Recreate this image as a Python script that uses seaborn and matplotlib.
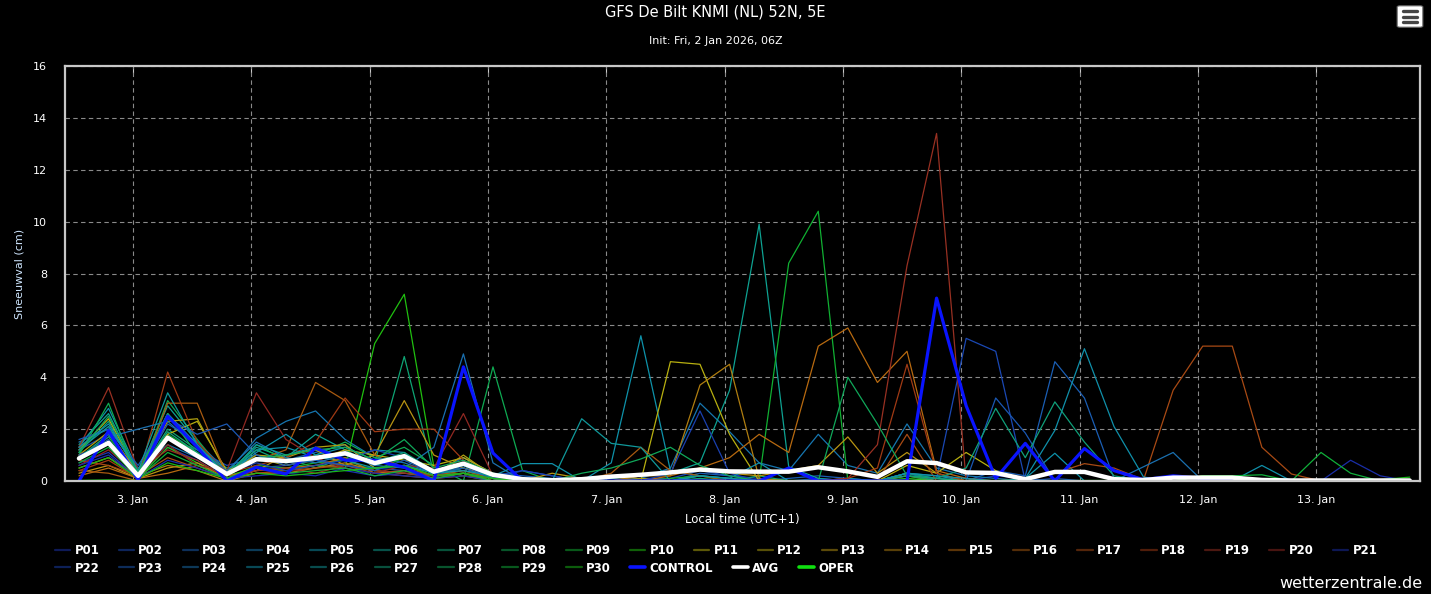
import pandas as pd
import matplotlib
matplotlib.use('Agg')
import matplotlib.pyplot as plt
import matplotlib.dates as mdates
from matplotlib.lines import Line2D
from matplotlib.patches import FancyBboxPatch
import seaborn as sns

# time steps (local time, 6-hourly from 2 Jan 13h)
times = pd.date_range('2026-01-02 13:00', periods=46, freq='6h')

p01 = [0.7,1.1,0.1,1.3,0.8,0.1,0.5,0.6,0.9,0.4,0.2,0.3,0.1,0.6,0.1, 0,0,0,0,0, 0,0.2,0.1,0,0, 0,0,0,0,0.1, 0,0.2,0.1,0,0, 0,0,0,0,0, 0,0,0,0,0,0]
p02 = [1.2,1.8,0.3,1.6,1.2,0.6,0.9,0.7,0.8,0.6,0.5,0.4,0.2,0.5,0.2, 0.4,0.2,0,0,0.1, 0.1,0.4,0.2,0.1,0, 0.1,0,0,0.3,0.1, 5.5,5.0,0,0.1,0, 0,0,0,0,0, 0,0,0,0,0,0]
p03 = [0.9,1.6,0.2,2.2,1.5,0.4,1.0,0.8,1.1,1.4,0.5,0.6,0.3,0.9,0.3, 0.2,0.1,0,0,0, 0,0.3,0.2,0,0.1, 0.2,0.1,0,0.3,0, 0,0.4,0.2,4.6,3.2, 0.1,0,0,0,0, 0,0,0,0,0,0]
p04 = [1.5,2.0,0.5,1.4,0.9,0.3,1.65,2.3,2.7,1.6,0.9,0.7,0.3,0.5,0.1, 0,0,0,0,0.1, 0.5,3.0,1.9,0.7,0.4, 1.8,0.6,0.3,2.2,0.5, 0.2,0.1,0,0,0, 0,0,0,0,0, 0,0,0,0,0,0]
p05 = [1.3,2.8,0.4,2.6,1.4,0.2,1.2,1.3,0.9,0.8,1.2,1.1,0.2,0.3,0.1, 0,0,0,0.7,5.6, 0.4,0.2,0.1,0,0, 0,0.1,0,0.3,0.2, 0,0,0.1,1.07,0, 0,0,0,0,0, 0,0,0,0,0,0]
p06 = [1.4,2.6,0.3,2.9,1.5,0.3,1.3,0.9,1.8,1.2,0.6,0.9,0.4,0.6,0.1, 0,0,0,0.1,0.2, 0.3,0.7,3.5,9.9,0.55, 0.1,0,0,0.2,0.1, 0,0,0,0,0, 0,0,0,0,0, 0,0,0,0,0,0]
p07 = [1.1,2.3,0.2,2.0,1.2,0.5,0.8,0.9,0.5,0.9,0.7,4.8,0.3,0.4,0.1, 0,0,0,0,0, 0,0.1,0,0.2,0, 0,0,0,0.3,0.1, 0,0,0,0,0, 0,0,0,0,0, 0,0,0,0,0,0]
p08 = [1.0,3.0,0.1,3.1,1.6,0.2,1.4,0.8,1.0,1.5,0.9,1.3,0.6,0.0,4.4, 0.4,0,0,0,0, 0,0,0,0,0, 0,0,0,0,0, 0,0,0,0,0, 0,0,0,0,0, 0,0,0,0,0,0]
p09 = [0.8,1.7,0.2,1.8,1.1,0.1,0.6,0.5,0.7,0.8,0.4,0.9,0.3,0.5,0.2, 0,0,0,0,0, 0.1,0.2,0,0,8.4, 10.4,0,0,0,0, 0,0,0,0,0, 0,0,0,0,0, 0,0,0,0,0,0]
p10 = [0.9,1.4,0.1,1.3,0.7,0.2,0.5,0.4,0.6,0.5,5.3,7.2,0.55,0.2,0.1, 0,0,0,0,0, 0,0,0,0,0, 0,0,0,0.1,0, 0,0,0,0,0, 0,0,0,0,0, 0,0,0,0,0,0]
p11 = [1.2,2.4,0.3,1.8,2.3,0.4,0.9,0.6,0.8,1.2,1.0,0.8,0.6,0.9,0.3, 0.1,0,0.1,0,0, 4.6,4.5,1.8,0,0, 0,0,0,0.6,0.3, 1.1,0.4,0,0,0, 0,0,0,0,0, 0,0,0,0,0,0]
p12 = [1.0,1.9,0.3,2.3,2.4,0.3,1.0,0.9,1.3,1.4,0.5,0.6,0.2,1.0,0.2, 0,0,0,0,0.1, 0,0,0,0,0, 0,0,0,0,0, 0,0,0,0,0, 0,0,0,0.2,0.2, 0,0,0,0,0,0]
p13 = [0.3,0.6,0.1,0.5,0.7,0.1,0.4,1.0,1.2,0.6,1.0,3.1,1.0,0.5,0.2, 0,0.3,0.1,0,0.2, 0.3,0.5,0.3,0.2,0.4, 0.6,1.7,0.3,1.1,0.3, 0,0,0,0,0, 0,0,0,0,0, 0,0,0,0,0,0]
p14 = [0.5,0.9,0.2,0.6,0.4,0.0,0.3,0.3,0.5,0.7,0.4,0.3,0.2,0.3,0, 0,0,0,0,0.2, 0.2,3.7,4.5,0.1,0, 0,0,0,0.2,0, 0,0,0,0,0, 0,0,0,0,0, 0,0,0,0,0,0]
p15 = [0.2,0.5,0.1,0.3,0.6,0.2,0.4,0.5,0.6,0.9,0.3,0.4,0.1,0.2,0, 0,0,0,0,0, 0.2,0.5,0.9,1.8,1.1, 5.2,5.9,3.8,5.0,0.4, 0.1,0,0,0,0, 0,0,0,0,0, 0,0,0,0,0,0]
p16 = [0.4,0.3,0.0,3.0,3.0,0.2,0.8,1.2,3.8,3.1,1.0,0.5,0.2,0.4,0.1, 0,0,0,0.3,1.3, 0.4,0.2,0,0,0, 0,0,0,0,0, 0,0,0,0,0, 0,0,0,0,0, 0,0,0,0,0,0]
p17 = [0.8,0.6,0.2,0.9,0.5,0.1,0.3,0.4,0.5,0.6,0.3,0.2,0.1,0.3,0, 0,0,0,0,0, 0,0,0,0,0, 0,0,0,1.8,0, 0,0,0.1,0.3,0.67, 0.5,0.05,3.5,5.2,5.2, 1.3,0.27,0,0,0,0]
p18 = [0.4,0.8,0.1,4.2,1.5,0.3,0.6,0.9,1.5,3.2,1.9,2.0,2.0,0.8,0.2, 0,0,0,0,0, 0,0,0,0,0, 0,0.1,0.5,4.5,0.3, 0,0,0,0,0, 0,0,0,0,0, 0,0,0,0,0,0]
p19 = [1.3,3.6,0.4,1.2,0.8,0.1,0.4,0.5,0.3,0.6,0.4,0.3,0.2,0.3,0.1, 0,0,0,0,0, 0,0,0,0,0, 0,0.1,1.4,8.3,13.4, 0,0,0,0,0, 0,0,0,0,0, 0,0,0,0,0,0]
p20 = [0.6,1.2,0.2,1.4,0.6,0.4,3.4,1.6,0.9,0.5,0.3,0.6,0.5,2.6,0.2, 0,0,0,0,0, 0,0,0,0,0, 0,0,0,0,0, 0,0,0,0,0, 0,0,0,0,0, 0,0,0,0,0,0]
p21 = [0.6,1.0,0.1,0.8,0.5,0.1,0.2,0.3,0.2,0.5,0.3,0.2,0.1,0.2,0, 0,0,0,0,0, 0,0,0,0,0, 0,0,0,0,0, 0,0,0,0,0, 0,0,0,0,0, 0,0,0,0.8,0.2,0]
p22 = [1.0,1.5,0.2,1.7,1.0,0.3,0.7,0.4,0.6,0.8,1.2,0.9,0.4,0.6,0.1, 0.4,0.2,0,0,0, 0.3,2.7,0.3,0,0, 0,0,0,0,0, 0,0,0,0,0, 0,0,0,0,0, 0,0,0,0,0,0]
p23 = [1.6,2.0,0.6,2.4,1.8,2.2,1.0,0.6,0.8,0.6,0.4,0.8,0.3,0.5,0.1, 0,0,0,0,0, 0,0,0,0,0, 0,0,0,0,0, 0,3.2,1.85,0,0, 0,0,0,0,0, 0,0,0,0,0,0]
p24 = [0.9,1.7,2.0,2.3,1.3,0.4,1.5,0.9,0.7,1.0,0.6,0.5,1.3,4.9,0.7, 0,0,0,0,0, 0,0,0,0,0, 0,0,0,0,0, 0,0,0,0,0, 0,0.55,1.1,0,0, 0,0,0,0,0,0]
p25 = [1.3,2.2,0.3,2.5,1.3,0.2,1.1,1.8,1.0,1.3,0.8,1.0,0.3,0.4,0.2, 0.67,0.67,0,0,0, 0,0.2,0.1,0.7,0, 0,0,0,0.3,0.2, 0.1,0,0.1,1.95,5.1, 2.1,0.15,0,0,0, 0.6,0,0,0,0,0]
p26 = [1.2,2.1,0.4,3.4,1.4,0.2,1.4,1.0,1.3,0.8,0.5,0.6,0.3,0.6,0.2, 0.1,0,2.4,1.45,1.3, 0,0.2,0.1,0,0, 0,0,0,0,0, 0,0,0,0,0, 0,0,0,0,0, 0,0,0,0,0,0]
p27 = [0.9,1.8,0.2,1.9,1.1,0.3,1.2,0.7,0.9,1.1,0.7,1.1,0.4,0.7,0.1, 0,0,0,0,0, 0,0,0,0,0, 0,0,0,0.2,0.1, 0.5,2.8,0.9,3.05,1.5, 0.2,0,0,0,0, 0,0,0,0,0,0]
p28 = [1.1,2.5,0.3,2.6,1.0,0.3,0.9,1.0,1.2,1.3,0.8,1.6,0.5,0.8,0.3, 0,0,0.3,0.5,0.85, 1.3,0.6,0.2,0,0, 0,4.0,2.2,0.2,0, 0,0,0,0,0, 0,0,0,0,0, 0,0,0,0,0,0]
p29 = [0.7,1.3,0.1,1.1,0.6,0.1,0.5,0.3,0.4,0.5,0.2,0.4,0.1,0.3,0, 0,0,0,0,0, 0,0,0,0,0, 0,0,0,0,0, 0,0,0,0,0, 0,0,0,0.2,0.2, 0.24,0,1.1,0.3,0,0]
p30 = [0.5,0.9,0.1,0.7,0.4,0.1,0.3,0.2,0.3,0.4,0.5,0.6,0.2,0.3,0.1, 0,0,0,0,0, 0,0,0,0,0, 0,0,0,0,0, 0,0,0,0,0, 0,0,0,0,0, 0,0,0,0,0.05,0.15]

control = [0,1.93,0.04,2.5,1.3,0,0.53,0.27,1.27,0.8,0.8,0.53,0,4.4,1.08, 0,0,0,0,0, 0,0,0,0,0.5, 0,0,0,0,7.05, 2.9,0.1,1.45,0,1.25, 0.4,0.05,0.2,0.1,0.05, 0,0,0,0,0,0]
avg = [0.87,1.47,0.2,1.67,0.97,0.27,0.84,0.77,0.89,1.07,0.69,0.96,0.36,0.67,0.24, 0.07,0.03,0.07,0.17,0.24, 0.33,0.44,0.37,0.36,0.36, 0.53,0.37,0.16,0.76,0.69, 0.33,0.31,0.07,0.35,0.35, 0.07,0.04,0.13,0.13,0.13, 0.04,0.02,0.02,0.02,0.02,0.02]
oper = [0,0.02,0,0.02,0,0,0,0,0,0,0,0,0,0,0, 0,0,0,0,0, 0,0,0,0,0, 0,0,0,0,0, 0,0,0,0,0, 0,0,0,0,0, 0,0,0,0,0,0]

members = [p01, p02, p03, p04, p05, p06, p07, p08, p09, p10,
           p11, p12, p13, p14, p15, p16, p17, p18, p19, p20,
           p21, p22, p23, p24, p25, p26, p27, p28, p29, p30]
member_names = [f'P{i:02d}' for i in range(1, 31)]
member_colors = ['#1c34b0', '#1a48b4', '#1a5eb4', '#1676b0', '#0e92aa',
                 '#0ea292', '#0ea474', '#0eaa52', '#10b032', '#20c010',
                 '#b8b010', '#b0a010', '#b89412', '#b07e10', '#b86a10',
                 '#a85a10', '#a84a14', '#a03a14', '#983022', '#902822',
                 '#1a2ea8', '#1a40b0', '#1a58b4', '#1a70b0', '#1090aa',
                 '#10989a', '#10a07a', '#10a85a', '#10b03a', '#18b818']

rows = []
for name, vals in zip(member_names, members):
    for t, v in zip(times, vals):
        rows.append((t, v, name))
df = pd.DataFrame(rows, columns=['time', 'snow', 'member'])

sns.set_style('dark')
plt.rcParams['font.family'] = ['DejaVu Sans']

fig = plt.figure(figsize=(14.31, 5.94), dpi=100, facecolor='black')
ax = fig.add_axes([65/1431, 1 - 481/594, (1420 - 65)/1431, (481 - 66)/594])
ax.set_facecolor('black')

sns.lineplot(data=df, x='time', y='snow', hue='member', palette=member_colors,
             linewidth=0.9, legend=False, ax=ax)
sns.lineplot(x=times, y=oper, color='#10e010', linewidth=1.6, ax=ax)
sns.lineplot(x=times, y=control, color='#0a14ff', linewidth=2.3, ax=ax)
sns.lineplot(x=times, y=avg, color='white', linewidth=3.2, ax=ax)

ax.set_ylim(0, 16)
ax.set_yticks(range(0, 17, 2))
ax.set_xlim(pd.Timestamp('2026-01-02 10:10'), pd.Timestamp('2026-01-13 21:05'))
ax.xaxis.set_major_locator(mdates.DayLocator(bymonthday=range(3, 14)))
ax.xaxis.set_major_formatter(plt.FuncFormatter(
    lambda v, p: f"{mdates.num2date(v).day}. Jan"))

ax.grid(True, color='#8a8a8a', linestyle=(0, (4, 3)), linewidth=0.8)
for s in ax.spines.values():
    s.set_color('#c8c8c8')
    s.set_linewidth(1.6)
ax.tick_params(axis='x', colors='#c8d4e4', length=7, width=1, labelcolor='white',
               labelsize=8, pad=3)
ax.tick_params(axis='y', length=0, labelcolor='white', labelsize=8, pad=13)
top = ax.secondary_xaxis('top')
top.xaxis.set_major_locator(mdates.DayLocator(bymonthday=range(3, 14)))
top.tick_params(direction='in', length=5, color='#c8c8c8', labeltop=False)
top.spines['top'].set_visible(False)

ax.set_xlabel('Local time (UTC+1)', color='white', fontsize=8.5, labelpad=6)
ax.set_ylabel('Sneeuwval (cm)', color='#cfe6ff', fontsize=8, labelpad=6)

fig.text(0.5, 1 - 12/594, 'GFS De Bilt KNMI (NL) 52N, 5E', color='white',
         fontsize=10.5, ha='center', va='center')
fig.text(0.5, 1 - 41/594, 'Init: Fri, 2 Jan 2026, 06Z', color='white',
         fontsize=8, ha='center', va='center')
fig.text(1422/1431, 1 - 583/594, 'wetterzentrale.de', color='white',
         fontsize=11.5, ha='right', va='center')

# menu icon
fig.patches.append(FancyBboxPatch((1400/1431, 1 - 26/594), 20/1431, 19/594,
                                  boxstyle='round,pad=0.002', transform=fig.transFigure,
                                  facecolor='white', edgecolor='#666666', linewidth=0.8))
for yy in (11, 16.5, 22):
    fig.lines.append(Line2D([1403/1431, 1417/1431], [1 - yy/594, 1 - yy/594],
                            transform=fig.transFigure, color='#444444', linewidth=2.4))

# legend, two rows
row1 = member_names[:21]
row2 = member_names[21:] + ['CONTROL', 'AVG', 'OPER']
colors_all = member_colors + ['#0a14ff', 'white', '#10e010']
labels_all = member_names + ['CONTROL', 'AVG', 'OPER']
def handles_for(labels):
    hs = []
    for lab in labels:
        c = colors_all[labels_all.index(lab)]
        if lab in ('CONTROL', 'AVG', 'OPER'):
            hs.append(Line2D([], [], color=c, linewidth=2.6))
        else:
            hs.append(Line2D([], [], color=c, linewidth=1.6, alpha=0.5))
    return hs

leg_kw = dict(frameon=False, handlelength=1.3, handletextpad=0.35,
              columnspacing=1.65, prop={'weight': 'bold', 'size': 8.5},
              labelcolor='white', loc='center left', borderaxespad=0, borderpad=0)
leg1 = fig.legend(handles_for(row1), row1, ncol=21,
                  bbox_to_anchor=(55/1431, 1 - 551/594), **leg_kw)
leg2 = fig.legend(handles_for(row2), row2, ncol=12,
                  bbox_to_anchor=(55/1431, 1 - 568/594), **leg_kw)

fig.savefig('out.png', dpi=100, facecolor='black')
